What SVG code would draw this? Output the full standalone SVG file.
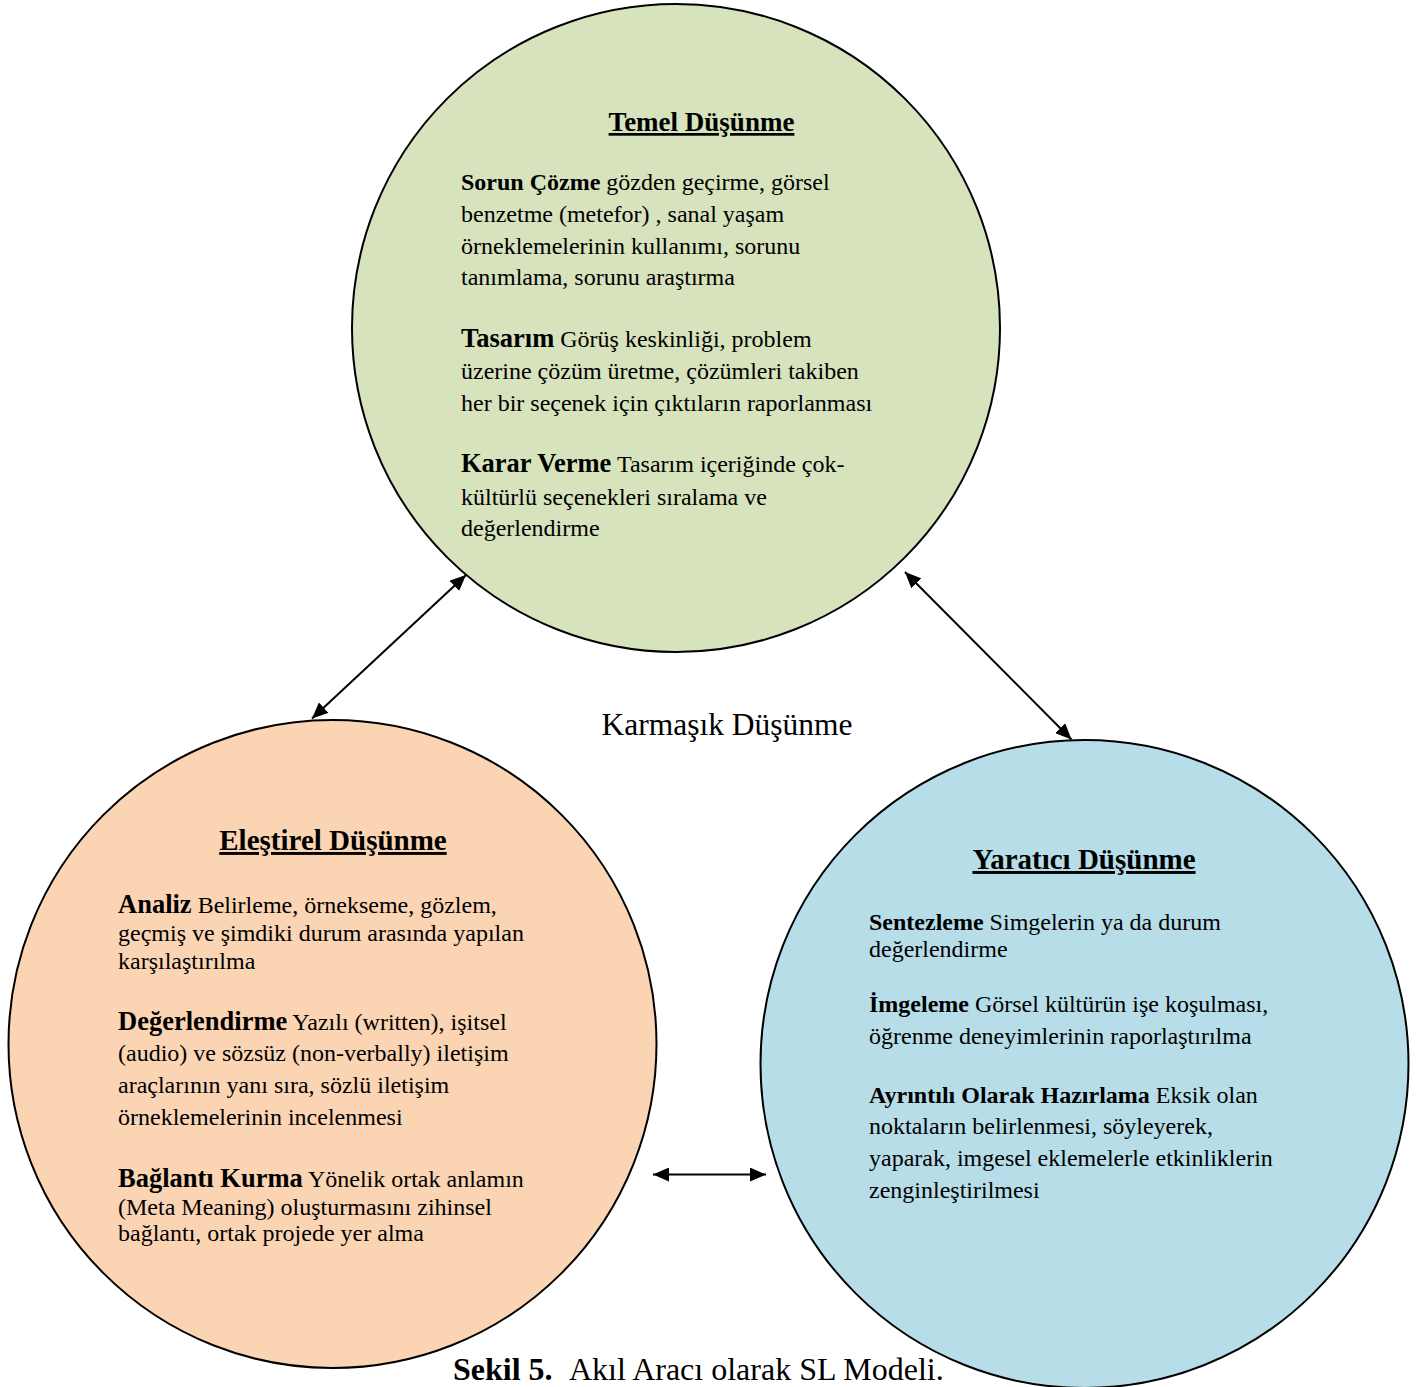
<svg xmlns="http://www.w3.org/2000/svg" width="1420" height="1387" viewBox="0 0 1420 1387">
<style>
text{font-family:"Liberation Serif","Times New Roman",serif;fill:#000;}
.t{font-size:24px;}
.b{font-weight:bold;}
.b26{font-weight:bold;font-size:26.5px;}
.title{font-weight:bold;text-anchor:middle;text-decoration:underline;}
.circ{stroke:#000;stroke-width:2;}
.conn{stroke:#000;stroke-width:2;fill:none;}
</style>
<defs>
<marker id="ah" viewBox="0 0 16 14" refX="16" refY="7" markerWidth="16" markerHeight="14" markerUnits="userSpaceOnUse" orient="auto-start-reverse">
<path d="M0,0 L16,7 L0,14 z" fill="#000"/>
</marker>
</defs>
<rect width="1420" height="1387" fill="#fff"/>

<g id="temel">
<circle class="circ" cx="676" cy="328" r="324" fill="#D7E3BC"/>
<text class="title" x="701.5" y="131" font-size="27">Temel Düşünme</text>
<text class="t" x="461" y="190"><tspan class="b">Sorun Çözme</tspan> gözden geçirme, görsel</text>
<text class="t" x="461" y="222">benzetme (metefor) , sanal yaşam</text>
<text class="t" x="461" y="254">örneklemelerinin kullanımı, sorunu</text>
<text class="t" x="461" y="285">tanımlama, sorunu araştırma</text>
<text class="t" x="461" y="347"><tspan class="b26">Tasarım</tspan> Görüş keskinliği, problem</text>
<text class="t" x="461" y="379">üzerine çözüm üretme, çözümleri takiben</text>
<text class="t" x="461" y="411">her bir seçenek için çıktıların raporlanması</text>
<text class="t" x="461" y="472"><tspan class="b26">Karar Verme</tspan> Tasarım içeriğinde çok-</text>
<text class="t" x="461" y="505">kültürlü seçenekleri sıralama ve</text>
<text class="t" x="461" y="536">değerlendirme</text>
</g>

<g id="elestirel">
<circle class="circ" cx="332.5" cy="1044" r="324" fill="#FBD4B4"/>
<text class="title" x="333" y="850" font-size="29">Eleştirel Düşünme</text>
<text class="t" x="118" y="913"><tspan class="b26">Analiz</tspan> Belirleme, örnekseme, gözlem,</text>
<text class="t" x="118" y="941">geçmiş ve şimdiki durum arasında yapılan</text>
<text class="t" x="118" y="969">karşılaştırılma</text>
<text class="t" x="118" y="1030"><tspan class="b26">Değerlendirme</tspan> Yazılı (written), işitsel</text>
<text class="t" x="118" y="1061">(audio) ve sözsüz (non-verbally) iletişim</text>
<text class="t" x="118" y="1093">araçlarının yanı sıra, sözlü iletişim</text>
<text class="t" x="118" y="1125">örneklemelerinin incelenmesi</text>
<text class="t" x="118" y="1187"><tspan class="b26">Bağlantı Kurma</tspan> Yönelik ortak anlamın</text>
<text class="t" x="118" y="1215">(Meta Meaning) oluşturmasını zihinsel</text>
<text class="t" x="118" y="1241">bağlantı, ortak projede yer alma</text>
</g>

<g id="yaratici">
<circle class="circ" cx="1084.5" cy="1064" r="324" fill="#B6DDE8"/>
<text class="title" x="1084" y="869" font-size="29">Yaratıcı Düşünme</text>
<text class="t" x="869" y="930"><tspan class="b">Sentezleme</tspan> Simgelerin ya da durum</text>
<text class="t" x="869" y="957">değerlendirme</text>
<text class="t" x="869" y="1012"><tspan class="b">İmgeleme</tspan> Görsel kültürün işe koşulması,</text>
<text class="t" x="869" y="1044">öğrenme deneyimlerinin raporlaştırılma</text>
<text class="t" x="869" y="1103"><tspan class="b">Ayrıntılı Olarak Hazırlama</tspan> Eksik olan</text>
<text class="t" x="869" y="1134">noktaların belirlenmesi, söyleyerek,</text>
<text class="t" x="869" y="1166">yaparak, imgesel eklemelerle etkinliklerin</text>
<text class="t" x="869" y="1198">zenginleştirilmesi</text>
</g>

<g id="connectors">
<line class="conn" x1="466" y1="575" x2="312" y2="718.5" marker-start="url(#ah)" marker-end="url(#ah)"/>
<line class="conn" x1="905" y1="572" x2="1071.5" y2="739.5" marker-start="url(#ah)" marker-end="url(#ah)"/>
<line class="conn" x1="653" y1="1174.5" x2="766" y2="1174.5" marker-start="url(#ah)" marker-end="url(#ah)"/>
</g>

<g id="karmasik">
<text x="727" y="735" font-size="31.5" text-anchor="middle">Karmaşık Düşünme</text>
</g>

<g id="caption">
<text x="453" y="1380" font-size="32"><tspan font-weight="bold">Sekil 5.</tspan><tspan x="569">Akıl Aracı olarak SL Modeli.</tspan></text>
</g>
</svg>
